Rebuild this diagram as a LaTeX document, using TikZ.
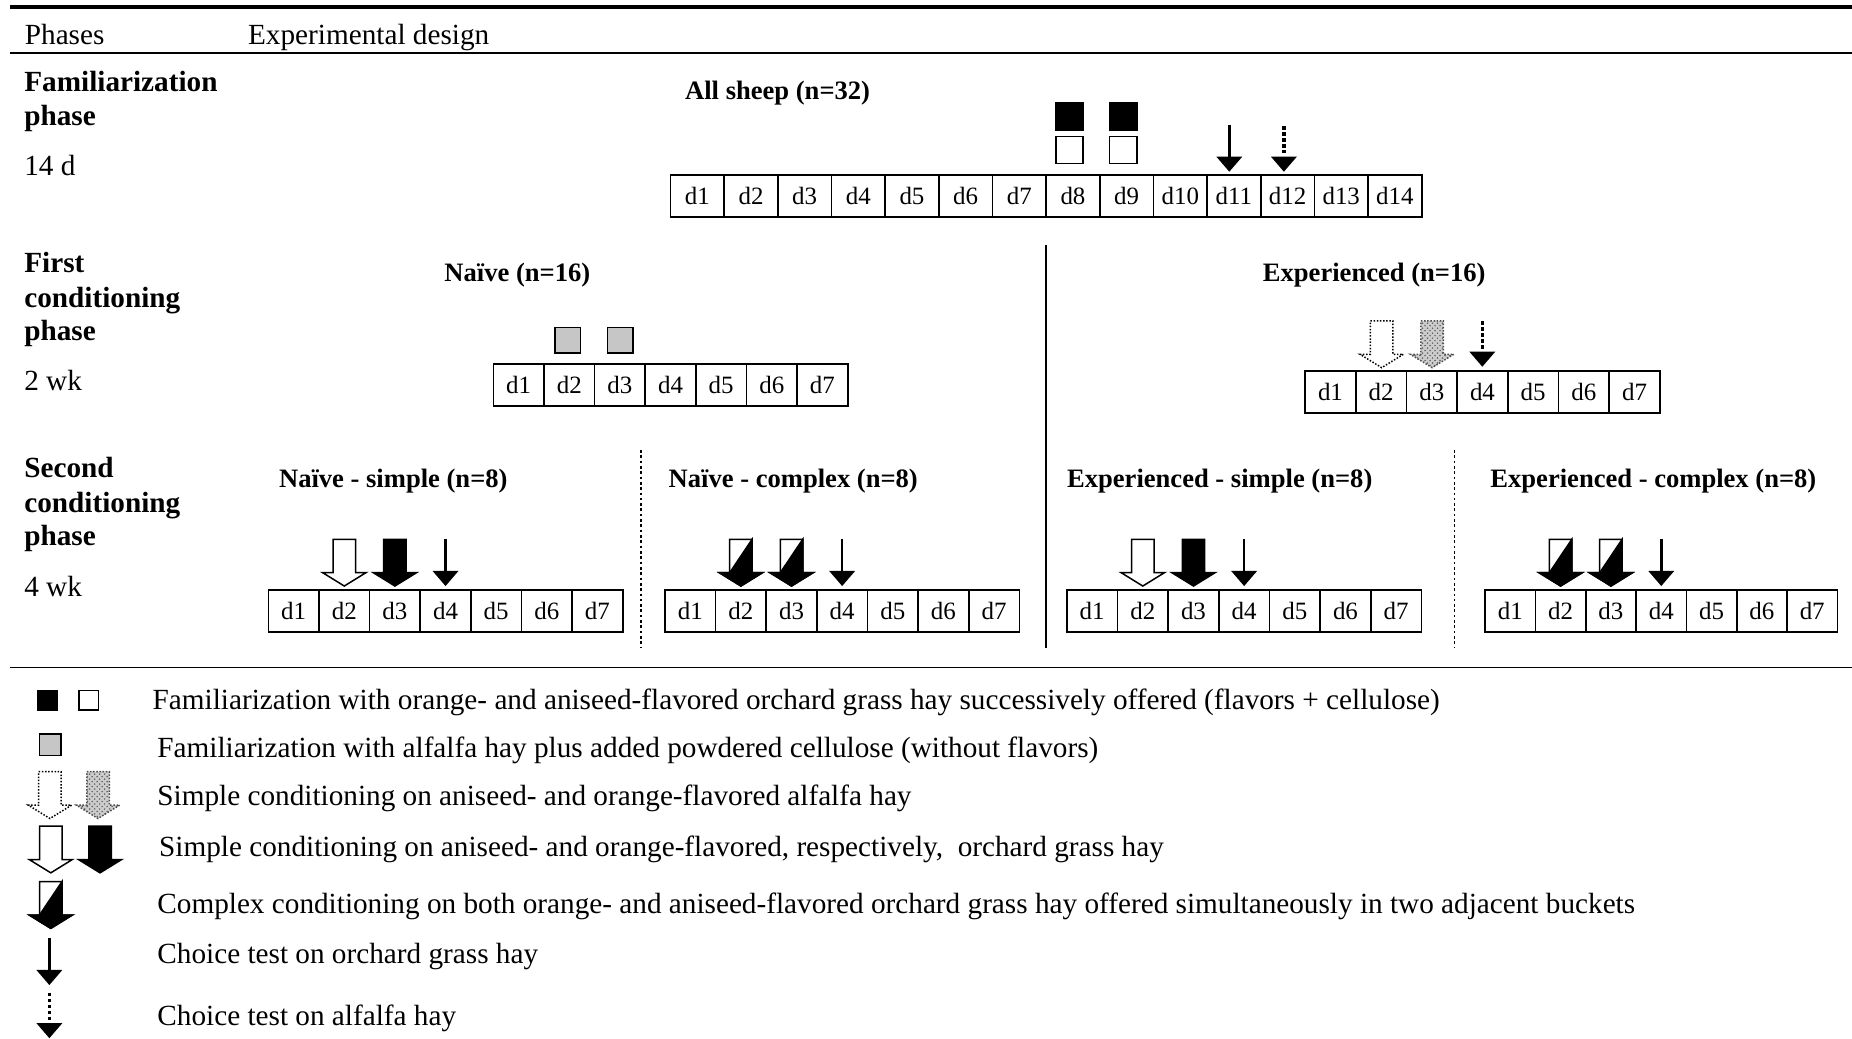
\documentclass[tikz,border=0pt]{standalone}
\usepackage{fontspec}
\setmainfont{Liberation Serif}
\usetikzlibrary{patterns}

% a row of numbered day cells: prefix, left x, centre y, count, cell width
\newcommand\dayrow[5]{%
  \foreach \i in {1,...,#4}{
    \node[daycell, minimum width=#5*0.025cm] (#1\i) at ({#2+#5*(\i-0.5)}, #3) {d\i};
  }}

\begin{document}
\begin{tikzpicture}[x=0.025cm, y=-0.025cm,
  txt/.style={anchor=base west, inner sep=0pt, font=\fontsize{17.6}{20}\selectfont},
  phase/.style={anchor=base west, inner sep=0pt, font=\fontsize{17.6}{20}\selectfont\bfseries},
  group/.style={anchor=base west, inner sep=0pt, font=\fontsize{16}{19}\selectfont\bfseries},
  daycell/.style={draw, line width=1pt, minimum height=0.8875cm, inner sep=0pt,
    font=\fontsize{15}{18}\selectfont},
  sq/.style={draw, line width=0.9pt, inner sep=0pt, minimum size=0.575cm},
  smallsq/.style={draw, line width=0.9pt, inner sep=0pt, minimum size=0.41cm},
  rule/.style={line width=1pt},
  pics/hollowarrow/.style={code={
    \draw[line width=0.9pt, fill=white] (-9.5,-39.6) -- (9.5,-39.6) -- (9.5,-11.3) -- (18.3,-11.3)
      -- (0,0) -- (-18.3,-11.3) -- (-9.5,-11.3) -- cycle;}},
  pics/blackarrow/.style={code={
    \draw[line width=0.9pt, fill=black] (-9.5,-39.6) -- (9.5,-39.6) -- (9.5,-11.3) -- (18.3,-11.3)
      -- (0,0) -- (-18.3,-11.3) -- (-9.5,-11.3) -- cycle;}},
  pics/complexarrow/.style={code={
    \draw[line width=0.9pt, fill=white] (-9.5,-39.6) -- (9.5,-39.6) -- (9.5,-11.3) -- (18.3,-11.3)
      -- (0,0) -- (-18.3,-11.3) -- (-9.5,-11.3) -- cycle;
    \draw[line width=0.9pt, fill=black] (-9.5,-11.3) -- (9.5,-39.6) -- (9.5,-11.3) -- (18.3,-11.3)
      -- (0,0) -- (-18.3,-11.3) -- cycle;}},
  pics/dottedhollow/.style={code={
    \draw[line width=0.9pt, densely dotted, fill=white] (-9.5,-39.6) -- (9.5,-39.6) -- (9.5,-11.3)
      -- (18.3,-11.3) -- (0,0) -- (-18.3,-11.3) -- (-9.5,-11.3) -- cycle;}},
  pics/stipplearrow/.style={code={
    \fill[gray!40] (-9.5,-39.6) -- (9.5,-39.6) -- (9.5,-11.3) -- (18.3,-11.3)
      -- (0,0) -- (-18.3,-11.3) -- (-9.5,-11.3) -- cycle;
    \fill[pattern=crosshatch dots, pattern color=gray!70!black] (-9.5,-39.6) -- (9.5,-39.6)
      -- (9.5,-11.3) -- (18.3,-11.3) -- (0,0) -- (-18.3,-11.3) -- (-9.5,-11.3) -- cycle;
    \draw[line width=0.9pt, densely dotted, gray!60!black] (-9.5,-39.6) -- (9.5,-39.6) -- (9.5,-11.3)
      -- (18.3,-11.3) -- (0,0) -- (-18.3,-11.3) -- (-9.5,-11.3) -- cycle;}},
  pics/linearrow/.style={code={
    \draw[line width=1.6pt] (0,-39.6) -- (0,-12);
    \fill (-11,-12.8) -- (11,-12.8) -- (0,0) -- cycle;}},
  pics/dottedline/.style={code={
    \draw[line width=2pt, dash pattern=on 2pt off 1.6pt] (0,-38.5) -- (0,-13.5);
    \fill (-11,-12.8) -- (11,-12.8) -- (0,0) -- cycle;}},
]
\useasboundingbox (0,0) rectangle (1568,879);

% table rules
\draw[line width=2.2pt] (8.3,6) -- (1568,6);
\draw[rule] (8.3,45) -- (1568,45);
\draw[rule] (8.3,565) -- (1568,565);

% header
\node[txt] (hphases) at (20.8,38) {Phases};
\node[txt] (hdesign) at (209.8,38) {Experimental design};

% ---------- familiarization phase ----------
\node[phase] (p1a) at (20.3,77.5) {Familiarization};
\node[phase] (p1b) at (20.3,106) {phase};
\node[txt]   (p1c) at (20.3,149) {14 d};
\node[group] (gall) at (579.8,84.5) {All sheep (n=32)};
\dayrow{fa}{567.7}{166}{14}{45.43}
\node[sq, fill=black] (sqo1) at (905.5,98.5) {};
\node[sq, fill=white] (sqa1) at (905.5,127) {};
\node[sq, fill=black] (sqo2) at (951,98.5) {};
\node[sq, fill=white] (sqa2) at (951,127) {};
\pic at (1040.8,145.4) {linearrow};
\pic at (1087,145.4) {dottedline};

% ---------- first conditioning phase ----------
\node[phase] (p2a) at (20.3,230.5) {First};
\node[phase] (p2b) at (20.3,260) {conditioning};
\node[phase] (p2c) at (20.3,288.5) {phase};
\node[txt]   (p2d) at (20.3,331) {2 wk};
\node[group] (gnaive) at (376,238) {Naïve (n=16)};
\node[group] (gexp) at (1069,238) {Experienced (n=16)};
\dayrow{na}{417.7}{325.9}{7}{42.86}
\node[sq, fill=gray!45, minimum size=0.54cm] (sqg1) at (480.5,288) {};
\node[sq, fill=gray!45, minimum size=0.54cm] (sqg2) at (525,288) {};
\dayrow{ex}{1105}{331.7}{7}{42.9}
\pic at (1169.8,311.3) {dottedhollow};
\pic at (1212.5,311.3) {stipplearrow};
\pic at (1255,310.5) {dottedline};

% separators between groups
\draw[rule] (885.4,207.5) -- (885.4,548.5);
\draw[rule, dash pattern=on 1.6pt off 1.6pt] (542.5,381) -- (542.5,548.5);
\draw[rule, dash pattern=on 1.6pt off 1.6pt] (1231.5,381) -- (1231.5,548.5);

% ---------- second conditioning phase ----------
\node[phase] (p3a) at (20.3,404.5) {Second};
\node[phase] (p3b) at (20.3,433.5) {conditioning};
\node[phase] (p3c) at (20.3,462) {phase};
\node[txt]   (p3d) at (20.3,505) {4 wk};

\node[group] (gns) at (236,412.5) {Naïve - simple (n=8)};
\node[group] (gnc) at (565.9,412.5) {Naïve - complex (n=8)};
\node[group] (ges) at (903.2,412.5) {Experienced - simple (n=8)};
\node[group] (gec) at (1261.6,412.5) {Experienced - complex (n=8)};

\dayrow{ns}{227.2}{517.3}{7}{42.86}
\dayrow{nc}{563}{517.3}{7}{42.86}
\dayrow{es}{903.2}{517.3}{7}{42.9}
\dayrow{ec}{1257.4}{517.3}{7}{42.6}

\pic at ([yshift=1.9pt]ns2.north) {hollowarrow};
\pic at ([yshift=1.9pt]ns3.north) {blackarrow};
\pic at ([yshift=1.9pt]ns4.north) {linearrow};
\pic at ([yshift=1.9pt]nc2.north) {complexarrow};
\pic at ([yshift=1.9pt]nc3.north) {complexarrow};
\pic at ([yshift=1.9pt]nc4.north) {linearrow};
\pic at ([yshift=1.9pt]es2.north) {hollowarrow};
\pic at ([yshift=1.9pt]es3.north) {blackarrow};
\pic at ([yshift=1.9pt]es4.north) {linearrow};
\pic at ([yshift=1.9pt]ec2.north) {complexarrow};
\pic at ([yshift=1.9pt]ec3.north) {complexarrow};
\pic at ([yshift=1.9pt]ec4.north) {linearrow};

% ---------- key ----------
\node[smallsq, fill=black] (ksqo) at (40,593) {};
\node[smallsq, fill=white] (ksqa) at (75,593) {};
\node[txt] (k1) at (129,600.6) {Familiarization with orange- and aniseed-flavored orchard grass hay successively offered (flavors + cellulose)};

\node[smallsq, fill=gray!45, minimum size=0.45cm] (ksqg) at (42.5,630.5) {};
\node[txt] (k2) at (133,641.3) {Familiarization with alfalfa hay plus added powdered cellulose (without flavors)};

\pic at (42.3,693) {dottedhollow};
\pic at (83,693) {stipplearrow};
\node[txt] (k3) at (133,681.6) {Simple conditioning on aniseed- and orange-flavored alfalfa hay};

\pic at (43,739) {hollowarrow};
\pic at (84.7,739) {blackarrow};
\node[txt] (k4) at (134.5,725.5) {Simple conditioning on aniseed- and orange-flavored, respectively,\ \ orchard grass hay};

\pic at (43,786) {complexarrow};
\node[txt] (k5) at (133,773) {Complex conditioning on both orange- and aniseed-flavored orchard grass hay offered simultaneously in two adjacent buckets};

\pic at (41.8,834) {linearrow};
\node[txt] (k6) at (133,816) {Choice test on orchard grass hay};

\pic at (41.8,879) {dottedline};
\node[txt] (k7) at (133,868) {Choice test on alfalfa hay};
\end{tikzpicture}
\end{document}
